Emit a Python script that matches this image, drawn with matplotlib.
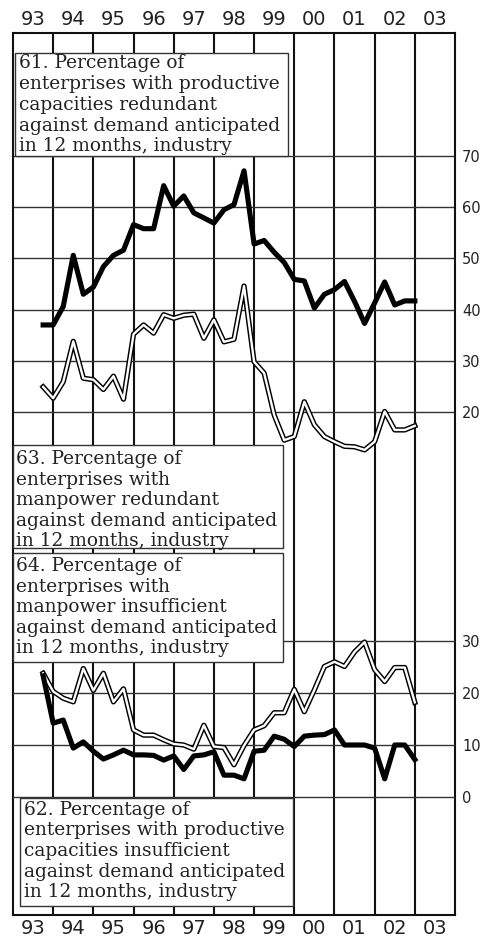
import matplotlib.pyplot as plt
from matplotlib.patches import Rectangle
import numpy as np

# quarterly observations, 1993 Q4 .. 2003 Q1
quarters = 1993.75 + 0.25 * np.arange(38)

# 61. productive capacities redundant (top scale)
cap_redundant = [37.0, 37.0, 40.6, 50.6, 43.0, 44.4, 48.4, 50.6, 51.6, 56.6,
                 55.8, 55.8, 64.2, 60.2, 62.2, 58.9, 57.9, 56.9, 59.5, 60.5,
                 67.1, 52.8, 53.5, 51.2, 49.2, 45.9, 45.6, 40.3, 43.0, 43.9,
                 45.5, 41.6, 37.3, 41.3, 45.4, 40.9, 41.7, 41.7]
# 63. manpower redundant (top scale)
man_redundant = [24.9, 22.7, 25.9, 33.8, 26.6, 26.3, 24.4, 27.0, 22.5, 35.2,
                 37.0, 35.4, 39.0, 38.3, 38.9, 39.1, 34.4, 38.0, 33.7, 34.2,
                 44.6, 29.8, 27.6, 19.4, 14.5, 15.2, 22.0, 17.5, 15.2, 14.2,
                 13.3, 13.2, 12.6, 14.2, 20.1, 16.5, 16.5, 17.3]
# 64. manpower insufficient (bottom scale)
man_insufficient = [23.8, 20.3, 19.0, 18.3, 24.7, 20.5, 23.8, 18.3, 20.8, 12.9,
                    11.9, 11.9, 11.0, 10.2, 10.0, 9.2, 13.8, 9.7, 9.5, 6.2,
                    9.9, 12.9, 13.7, 16.2, 16.2, 20.7, 16.4, 20.6, 25.1, 26.0,
                    25.1, 27.9, 29.8, 24.5, 22.2, 24.9, 24.9, 18.2]
# 62. productive capacities insufficient (bottom scale)
cap_insufficient = [23.3, 14.2, 14.8, 9.4, 10.6, 8.8, 7.3, 8.1, 9.0, 8.1,
                    8.1, 8.0, 7.1, 7.9, 5.3, 7.9, 8.1, 8.7, 4.2, 4.2,
                    3.5, 8.8, 9.0, 11.7, 11.1, 9.7, 11.7, 11.9, 12.0, 12.9,
                    10.0, 10.0, 10.0, 9.4, 3.5, 10.0, 10.0, 7.2]

years = list(range(1993, 2004))
year_labels = ['93', '94', '95', '96', '97', '98', '99', '00', '01', '02', '03']
top_ticks = [20, 30, 40, 50, 60, 70]
bottom_ticks = [0, 10, 20, 30]

W, H = 484, 938
fig = plt.figure(figsize=(W / 100, H / 100), dpi=100)
fig.patch.set_facecolor('white')

L, R, T, B = 13, 455, 33, 915
rect = [L / W, 1 - B / H, (R - L) / W, (B - T) / H]
ax = fig.add_axes(rect)
ax2 = fig.add_axes(rect)

ax.set_xlim(1993, 2004)
ax2.set_xlim(1993, 2004)
ax.set_ylim(-78.24, 94.02)
ax2.set_ylim(-22.69, 146.92)

# grid
for y in years[1:]:
    ax.axvline(y, color='#111111', lw=1.5, zorder=1)
for v in top_ticks:
    ax.axhline(v, color='#333333', lw=1.0, zorder=1)
for v in bottom_ticks:
    ax2.axhline(v, color='#333333', lw=1.0, zorder=1)

# series
ax.plot(quarters, cap_redundant, color='black', lw=3.7, zorder=3)
ax.plot(quarters, man_redundant, color='black', lw=3.8, zorder=3)
ax.plot(quarters, man_redundant, color='white', lw=1.7, zorder=4)
ax2.plot(quarters, man_insufficient, color='black', lw=3.8, zorder=3)
ax2.plot(quarters, man_insufficient, color='white', lw=1.7, zorder=4)
ax2.plot(quarters, cap_insufficient, color='black', lw=3.7, zorder=5)

# frame and ticks
for s in ax.spines.values():
    s.set_linewidth(1.5)
    s.set_color('#111111')
for s in ax2.spines.values():
    s.set_visible(False)
ax2.patch.set_visible(False)

ax.set_xticks(years)
ax.set_xticklabels([])
ax.set_xticks([y + 0.5 for y in years], minor=True)
ax.set_xticklabels(year_labels, minor=True)
ax.tick_params(axis='x', which='both', length=0, top=False, bottom=False,
               labeltop=True, labelbottom=True, labelsize=14, pad=3,
               labelcolor='#222222')
ax2.set_xticks([])

ax.yaxis.tick_right()
ax.set_yticks(top_ticks)
ax2.yaxis.tick_right()
ax2.set_yticks(bottom_ticks)
for a in (ax, ax2):
    a.tick_params(axis='y', length=0, pad=5, labelsize=10.5, labelcolor='#222222')


def text_box(x0, y0, x1, y1, tx, baselines, lines):
    fig.add_artist(Rectangle((x0 / W, 1 - y1 / H), (x1 - x0) / W, (y1 - y0) / H,
                             transform=fig.transFigure, facecolor='white',
                             edgecolor='#333333', lw=1.0, zorder=5))
    for yb, s in zip(baselines, lines):
        fig.text(tx / W, 1 - yb / H, s, ha='left', va='baseline',
                 fontsize=13.4, family='DejaVu Serif', color='#222222', zorder=6)


text_box(15, 53, 288, 156, 19, [68, 89, 110, 131, 151],
         ['61. Percentage of', 'enterprises with productive',
          'capacities redundant', 'against demand anticipated',
          'in 12 months, industry'])
text_box(13, 445, 283, 548, 16, [464, 485, 505, 526, 546],
         ['63. Percentage of', 'enterprises with', 'manpower redundant',
          'against demand anticipated', 'in 12 months, industry'])
text_box(13, 553, 283, 662, 16, [571, 592, 612, 633, 653],
         ['64. Percentage of', 'enterprises with', 'manpower insufficient',
          'against demand anticipated', 'in 12 months, industry'])
text_box(20, 798, 293, 906, 24, [815, 835, 856, 877, 897],
         ['62. Percentage of', 'enterprises with productive',
          'capacities insufficient', 'against demand anticipated',
          'in 12 months, industry'])

fig.savefig('out.png', dpi=100)
